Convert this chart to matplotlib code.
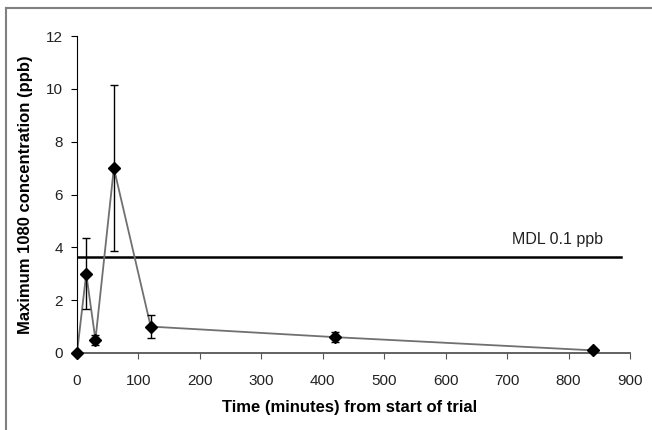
import matplotlib
matplotlib.use("Agg")
import matplotlib.pyplot as plt
from matplotlib.lines import Line2D

plt.rcParams['font.family'] = ['Liberation Sans', 'DejaVu Sans']

# data
time_min = [0, 15, 30, 60, 120, 420, 840]
conc_ppb = [0, 3, 0.5, 7, 1, 0.6, 0.1]
err_ppb = [0, 1.35, 0.2, 3.15, 0.45, 0.2, 0.05]
mdl_level = 3.65
mdl_text = "MDL 0.1 ppb"

fig = plt.figure(figsize=(6.52, 4.30), dpi=100)
ax = fig.add_axes([77/652, 1-353/430, 553/652, 317/430])

# thin gray frame, only top and left edges show
fx, fy = 6/652, 1 - 8/430
fig.lines.append(Line2D([fx, 1.0], [fy, fy], transform=fig.transFigure,
                        color='#808080', linewidth=1.5))
fig.lines.append(Line2D([fx, fx], [0.0, fy], transform=fig.transFigure,
                        color='#808080', linewidth=1.5))

ax.plot(time_min, conc_ppb, color='#707070', linewidth=1.3, zorder=2)
ax.errorbar(time_min, conc_ppb, yerr=err_ppb, fmt='D', color='black',
            markersize=6.5, ecolor='black', elinewidth=1, capsize=3,
            capthick=1, zorder=3, clip_on=False)

ax.plot([0, 885], [mdl_level, mdl_level], color='black', linewidth=1.8, zorder=1)
ax.text(708, 4.28, mdl_text, fontsize=11.5, va='center', ha='left', color='#222222')

ax.set_xlim(0, 900)
ax.set_ylim(0, 12)
ax.set_xticks(range(0, 901, 100))
ax.set_yticks(range(0, 13, 2))

for s in ['top', 'right']:
    ax.spines[s].set_visible(False)
ax.spines['left'].set_color('black')
ax.spines['bottom'].set_color('#555555')
ax.spines['bottom'].set_linewidth(1.3)

ax.tick_params(axis='x', direction='out', length=4, pad=11, labelsize=11,
               colors='#555555', labelcolor='#222222')
ax.tick_params(axis='y', direction='out', length=4, pad=6, labelsize=11,
               labelcolor='#222222')

ax.set_xlabel("Time (minutes) from start of trial", fontsize=12, fontweight='bold')
ax.set_ylabel("Maximum 1080 concentration (ppb)", fontsize=12, fontweight='bold')
ax.xaxis.set_label_coords(273/553, -(400-353)/317)
ax.yaxis.set_label_coords(-(77-33)/553, 0.5)

fig.savefig("out.png", dpi=100)
